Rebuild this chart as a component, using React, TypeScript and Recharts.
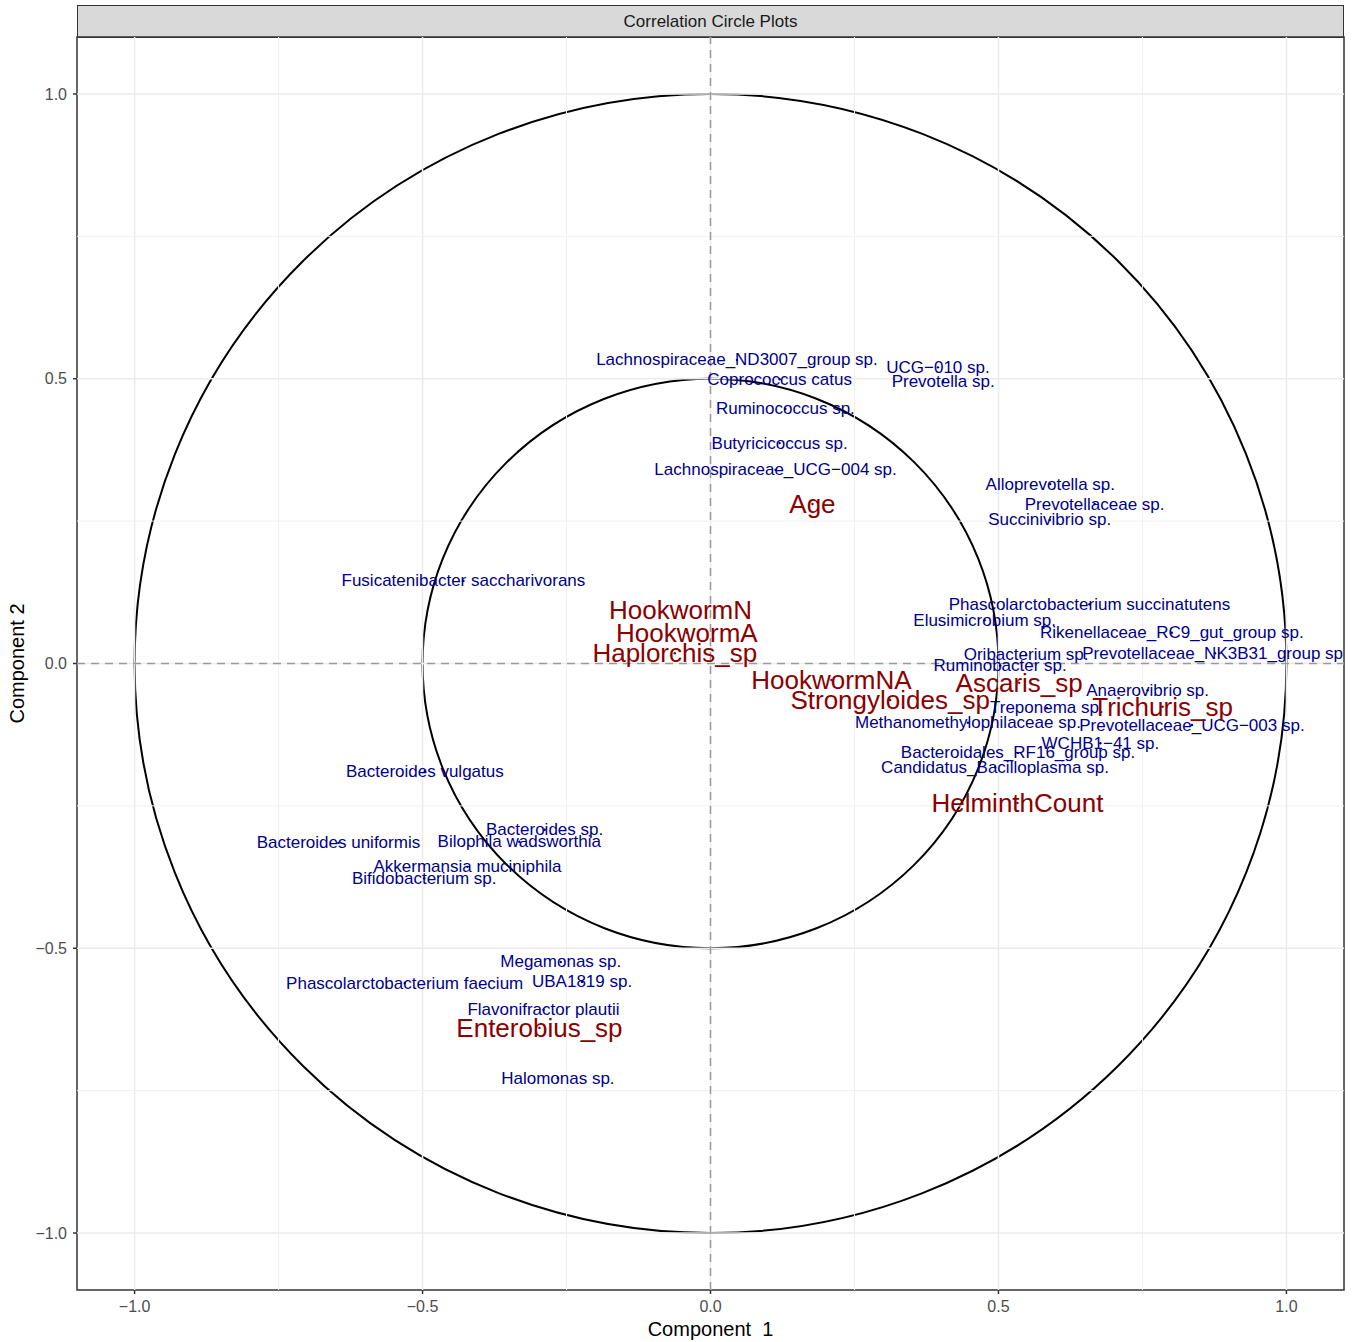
import React from "react";
import {
  ScatterChart,
  Scatter,
  XAxis,
  YAxis,
  ReferenceLine,
  ReferenceArea,
} from "recharts";

const FONT = '"Liberation Sans", Arial, Helvetica, sans-serif';
const BLUE = "#00008B";
const RED = "#8B0000";

// taxa (blue labels)
const speciesNames = [
  "Lachnospiraceae_ND3007_group sp.",
  "UCG\u2212010 sp.",
  "Coprococcus catus",
  "Prevotella sp.",
  "Ruminococcus sp.",
  "Butyricicoccus sp.",
  "Lachnospiraceae_UCG\u2212004 sp.",
  "Alloprevotella sp.",
  "Prevotellaceae sp.",
  "Succinivibrio sp.",
  "Fusicatenibacter saccharivorans",
  "Phascolarctobacterium succinatutens",
  "Elusimicrobium sp.",
  "Rikenellaceae_RC9_gut_group sp.",
  "Oribacterium sp.",
  "Prevotellaceae_NK3B31_group sp.",
  "Ruminobacter sp.",
  "Anaerovibrio sp.",
  "Treponema sp.",
  "Methanomethylophilaceae sp.",
  "Prevotellaceae_UCG\u2212003 sp.",
  "WCHB1\u221241 sp.",
  "Bacteroidales_RF16_group sp.",
  "Candidatus_Bacilloplasma sp.",
  "Bacteroides vulgatus",
  "Bacteroides sp.",
  "Bacteroides uniformis",
  "Bilophila wadsworthia",
  "Akkermansia muciniphila",
  "Bifidobacterium sp.",
  "Megamonas sp.",
  "Phascolarctobacterium faecium",
  "UBA1819 sp.",
  "Flavonifractor plautii",
  "Halomonas sp.",
];
const speciesX = [
  0.046, 0.395, 0.12, 0.404, 0.13, 0.12, 0.113, 0.59, 0.667, 0.589, -0.429,
  0.658, 0.476, 0.801, 0.548, 0.876, 0.503, 0.759, 0.584, 0.447, 0.836, 0.677,
  0.534, 0.494, -0.496, -0.288, -0.646, -0.332, -0.422, -0.497, -0.26, -0.531,
  -0.223, -0.29, -0.265,
];
const speciesY = [
  0.533, 0.52, 0.499, 0.496, 0.447, 0.387, 0.34, 0.315, 0.28, 0.252, 0.145,
  0.104, 0.076, 0.054, 0.015, 0.018, -0.004, -0.047, -0.078, -0.104, -0.108,
  -0.14, -0.157, -0.182, -0.189, -0.292, -0.315, -0.313, -0.357, -0.377,
  -0.524, -0.561, -0.559, -0.608, -0.728,
];

// clinical / helminth variables (red labels)
const variableNames = [
  "Age",
  "HookwormN",
  "HookwormA",
  "Haplorchis_sp",
  "HookwormNA",
  "Strongyloides_sp",
  "Ascaris_sp",
  "Trichuris_sp",
  "HelminthCount",
  "Enterobius_sp",
];
const variableX = [0.177, -0.052, -0.041, -0.062, 0.21, 0.312, 0.536, 0.785, 0.533, -0.297];
const variableY = [0.28, 0.094, 0.054, 0.018, -0.029, -0.064, -0.034, -0.076, -0.245, -0.64];

const majorBreaks = [-1, -0.5, 0, 0.5, 1];
const minorBreaks = [-0.75, -0.25, 0.25, 0.75];
const circleRadii = [1, 0.5];
const LIMIT = 1.1;

const species = speciesNames.map((name, i) => ({ name, x: speciesX[i], y: speciesY[i] }));
const variables = variableNames.map((name, i) => ({ name, x: variableX[i], y: variableY[i] }));

const fmt = (v: number) => v.toFixed(1).replace("-", "\u2212");

function labelShape(color: string, size: number) {
  return (props: any) => {
    const { cx, cy, payload } = props;
    return (
      <g>
        <circle cx={cx} cy={cy} r={1.2} fill={color} />
        <text
          x={cx}
          y={cy}
          textAnchor="middle"
          dominantBaseline="central"
          fill={color}
          fontSize={size}
          fontFamily={FONT}
        >
          {payload.name}
        </text>
      </g>
    );
  };
}

const circleShape = (props: any) => {
  const { x, y, width, height } = props;
  return (
    <ellipse
      cx={x + width / 2}
      cy={y + height / 2}
      rx={width / 2}
      ry={height / 2}
      fill="none"
      stroke="#000"
      strokeWidth={2}
    />
  );
};

const borderShape = (props: any) => {
  const { x, y, width, height } = props;
  return <rect x={x} y={y} width={width} height={height} fill="none" stroke="#333" strokeWidth={1.5} />;
};

const xTitle = (props: any) => {
  const vb = props.viewBox;
  return (
    <text
      x={vb.x + vb.width / 2}
      y={vb.y + 39}
      textAnchor="middle"
      dominantBaseline="central"
      fontSize={20}
      fill="#000"
      fontFamily={FONT}
      style={{ whiteSpace: "pre" }}
    >
      {"Component  1"}
    </text>
  );
};

const yTitle = (props: any) => {
  const vb = props.viewBox;
  const x = vb.x + 17;
  const y = vb.y + vb.height / 2;
  return (
    <text
      x={x}
      y={y}
      transform={`rotate(-90, ${x}, ${y})`}
      textAnchor="middle"
      dominantBaseline="central"
      fontSize={20}
      fill="#000"
      fontFamily={FONT}
    >
      Component 2
    </text>
  );
};

const tickStyle = { fill: "#4D4D4D", fontSize: 16, fontFamily: FONT };

export default function App() {
  return (
    <div style={{ position: "absolute", left: 0, top: 0, width: 1358, height: 1342, background: "#fff" }}>
      <div
        style={{
          position: "absolute",
          left: 77,
          top: 5,
          width: 1267,
          height: 33,
          boxSizing: "border-box",
          background: "#D9D9D9",
          border: "1.5px solid #333",
          color: "#1A1A1A",
          fontFamily: FONT,
          fontSize: 17,
          display: "flex",
          alignItems: "center",
          justifyContent: "center",
        }}
      >
        Correlation Circle Plots
      </div>
      <ScatterChart width={1358} height={1342} margin={{ top: 37, right: 14, bottom: 0, left: 0 }}>
        <XAxis
          type="number"
          dataKey="x"
          domain={[-LIMIT, LIMIT]}
          allowDataOverflow
          ticks={majorBreaks}
          tickFormatter={fmt}
          height={52}
          axisLine={false}
          tickLine={{ stroke: "#333", strokeWidth: 1.5 }}
          tickSize={4}
          tickMargin={7}
          tick={tickStyle}
          label={xTitle}
        />
        <YAxis
          type="number"
          dataKey="y"
          domain={[-LIMIT, LIMIT]}
          allowDataOverflow
          ticks={majorBreaks}
          tickFormatter={fmt}
          width={77}
          axisLine={false}
          tickLine={{ stroke: "#333", strokeWidth: 1.5 }}
          tickSize={4}
          tickMargin={6}
          tick={tickStyle}
          label={yTitle}
        />
        {minorBreaks.map((v) => (
          <ReferenceLine key={"mx" + v} x={v} stroke="#F0F0F0" strokeWidth={1} />
        ))}
        {minorBreaks.map((v) => (
          <ReferenceLine key={"my" + v} y={v} stroke="#F0F0F0" strokeWidth={1} />
        ))}
        {majorBreaks.map((v) => (
          <ReferenceLine key={"Mx" + v} x={v} stroke="#EBEBEB" strokeWidth={1.5} />
        ))}
        {majorBreaks.map((v) => (
          <ReferenceLine key={"My" + v} y={v} stroke="#EBEBEB" strokeWidth={1.5} />
        ))}
        <ReferenceLine x={0} stroke="#9A9A9A" strokeWidth={1.5} strokeDasharray="8 6" />
        <ReferenceLine y={0} stroke="#9A9A9A" strokeWidth={1.5} strokeDasharray="8 6" />
        {circleRadii.map((r) => (
          <ReferenceArea key={"c" + r} x1={-r} x2={r} y1={-r} y2={r} shape={circleShape} />
        ))}
        <ReferenceArea x1={-LIMIT} x2={LIMIT} y1={-LIMIT} y2={LIMIT} shape={borderShape} />
        <Scatter data={species} shape={labelShape(BLUE, 17)} isAnimationActive={false} />
        <Scatter data={variables} shape={labelShape(RED, 26)} isAnimationActive={false} />
      </ScatterChart>
    </div>
  );
}
